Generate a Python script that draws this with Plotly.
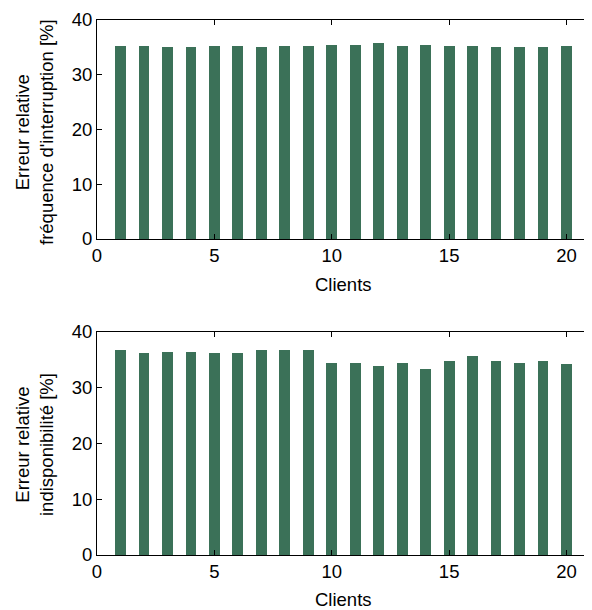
import plotly.graph_objects as go

clients = list(range(1, 21))
freq_err = [35.2, 35.2, 35.0, 35.0, 35.2, 35.2, 35.0, 35.2, 35.2, 35.5,
            35.5, 35.8, 35.2, 35.5, 35.2, 35.2, 35.0, 35.0, 35.0, 35.2]
indisp_err = [36.8, 36.2, 36.4, 36.4, 36.2, 36.2, 36.8, 36.8, 36.8, 34.5,
              34.5, 33.9, 34.5, 33.4, 34.8, 35.7, 34.8, 34.5, 34.8, 34.3]
x_ticks = [0, 5, 10, 15, 20]
y_ticks = [0, 10, 20, 30, 40]

BAR = "#3b7158"
FONT = "Liberation Sans, Arial, sans-serif"
FS = 18.5

fig = go.Figure()
fig.add_trace(go.Bar(x=clients, y=freq_err, width=0.46, marker=dict(color=BAR, line=dict(width=0)),
                     xaxis="x", yaxis="y", showlegend=False))
fig.add_trace(go.Bar(x=clients, y=indisp_err, width=0.46, marker=dict(color=BAR, line=dict(width=0)),
                     xaxis="x2", yaxis="y2", showlegend=False))

OFF = 8  # default page body margin
W, H = 592 - OFF, 610 - OFF
# target page pixel positions
L_PIX, R_PIX = 97, 590
TOP1, BOT1 = 20, 239
TOP2, BOT2 = 332, 555

ml = L_PIX - OFF
mr = W - (R_PIX - OFF)
mt = TOP1 - OFF
mb = H - (BOT2 - OFF)
pw = W - ml - mr
ph = H - mt - mb

def py(pix):
    return 1 - (pix - OFF - mt) / ph

def px(pix):
    return (pix - OFF - ml) / pw

axis_common = dict(showline=True, linecolor="black", linewidth=1, mirror="ticks",
                   ticks="inside", ticklen=5, tickcolor="black", showgrid=False,
                   zeroline=False, tickfont=dict(family=FONT, size=FS, color="black"))

fig.update_layout(
    width=W, height=H,
    margin=dict(l=ml, r=mr, t=mt, b=mb),
    paper_bgcolor="white", plot_bgcolor="white",
    font=dict(family=FONT, size=FS, color="black"),
    xaxis=dict(domain=[0, 1], range=[0, 21], tickvals=x_ticks, anchor="y", **axis_common),
    yaxis=dict(domain=[py(BOT1), 1], range=[0, 40], tickvals=y_ticks, anchor="x", **axis_common),
    xaxis2=dict(domain=[0, 1], range=[0, 21], tickvals=x_ticks, anchor="y2", **axis_common),
    yaxis2=dict(domain=[0, py(TOP2)], range=[0, 40], tickvals=y_ticks, anchor="x2", **axis_common),
    bargap=0,
)

ann = [
    dict(text="Erreur relative<br>fréquence d'interruption [%]", x=px(34), y=py(132),
         textangle=-90),
    dict(text="Erreur relative<br>indisponibilité [%]", x=px(34), y=py(444),
         textangle=-90),
    dict(text="Clients", x=px(343), y=py(285)),
    dict(text="Clients", x=px(343), y=py(599)),
]
for a in ann:
    fig.add_annotation(xref="paper", yref="paper", showarrow=False, xanchor="center",
                       yanchor="middle", font=dict(family=FONT, size=FS, color="black"), **a)

fig.write_html("out.html")
